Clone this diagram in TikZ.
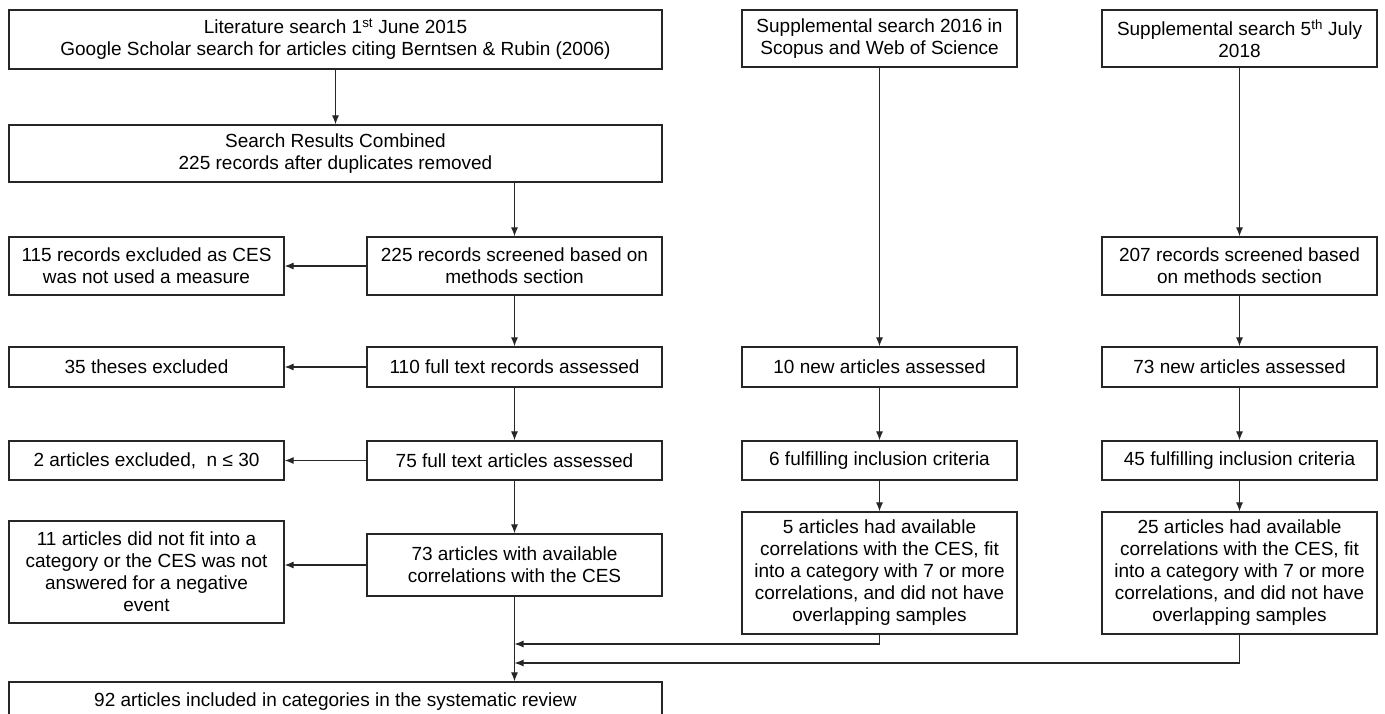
\documentclass[tikz,border=0pt]{standalone}
\usepackage{fontspec}
\setmainfont{Liberation Sans}
\usetikzlibrary{arrows.meta}
\begin{document}
\begin{tikzpicture}[x=1pt,y=-1pt,
  box/.style={draw=black!85,line width=1.2pt,inner sep=0pt,align=center,
    font=\fontsize{19}{22}\selectfont},
  arr/.style={draw=black!85,line width=1.1pt,-{Latex[length=9pt,width=7pt]}},
  ln/.style={draw=black!85,line width=1.1pt}]
\useasboundingbox (0,0) rectangle (1385,714);
% top row
\node[box,minimum width=653pt,minimum height=59pt] (A) at (335.5,39.5)
  {Literature search 1\textsuperscript{st} June 2015\\Google Scholar search for articles citing Berntsen \& Rubin (2006)};
\node[box,minimum width=275pt,minimum height=57pt] (S1) at (879.5,38.5)
  {Supplemental search 2016 in\\Scopus and Web of Science};
\node[box,minimum width=275pt,minimum height=57pt] (S2) at (1239.5,38.5)
  {Supplemental search 5\textsuperscript{th} July\\2018};
\node[box,minimum width=653pt,minimum height=57pt] (B) at (335.5,153.5)
  {Search Results Combined\\225 records after duplicates removed};
% row C
\node[box,minimum width=275pt,minimum height=58pt] (C1) at (146.5,266)
  {115 records excluded as CES\\was not used a measure};
\node[box,minimum width=295pt,minimum height=58pt] (C2) at (514.5,266)
  {225 records screened based on\\methods section};
\node[box,minimum width=275pt,minimum height=58pt] (C4) at (1239.5,266)
  {207 records screened based\\on methods section};
% row D
\node[box,minimum width=275pt,minimum height=40pt] (D1) at (146.5,367) {35 theses excluded};
\node[box,minimum width=295pt,minimum height=40pt] (D2) at (514.5,367) {110 full text records assessed};
\node[box,minimum width=275pt,minimum height=40pt] (D3) at (879.5,367) {10 new articles assessed};
\node[box,minimum width=275pt,minimum height=40pt] (D4) at (1239.5,367) {73 new articles assessed};
% row E
\node[box,minimum width=275pt,minimum height=39pt] (E1) at (146.5,460.5) {2 articles excluded,\ \ n ≤ 30};
\node[box,minimum width=295pt,minimum height=39pt] (E2) at (514.5,460.5) {75 full text articles assessed};
\node[box,minimum width=275pt,minimum height=39pt] (E3) at (879.5,460.5) {6 fulfilling inclusion criteria};
\node[box,minimum width=275pt,minimum height=39pt] (E4) at (1239.5,460.5) {45 fulfilling inclusion criteria};
% row F
\node[box,minimum width=275pt,minimum height=102pt] (F1) at (146.5,572)
  {11 articles did not fit into a\\category or the CES was not\\answered for a negative\\event};
\node[box,minimum width=295pt,minimum height=62pt] (F2) at (514.5,565)
  {73 articles with available\\correlations with the CES};
\node[box,minimum width=275pt,minimum height=122pt] (F3) at (879.5,573)
  {5 articles had available\\correlations with the CES, fit\\into a category with 7 or more\\correlations, and did not have\\overlapping samples};
\node[box,minimum width=275pt,minimum height=122pt] (F4) at (1239.5,573)
  {25 articles had available\\correlations with the CES, fit\\into a category with 7 or more\\correlations, and did not have\\overlapping samples};
% bottom
\node[box,minimum width=653pt,minimum height=40pt] (G) at (335.5,702)
  {92 articles included in categories in the systematic review};
\coordinate (j1) at (514.5,644);
\coordinate (j2) at (514.5,663);
% connectors
\draw[arr] (A.south) -- (B.north);
\draw[arr] (C2 |- B.south) -- (C2.north);
\draw[arr] (C2.south) -- (D2.north);
\draw[arr] (D2.south) -- (E2.north);
\draw[arr] (E2.south) -- (F2.north);
\draw[arr] (F2.south) -- (F2.south |- G.north);
\draw[arr] (C2.west) -- (C1.east);
\draw[arr] (D2.west) -- (D1.east);
\draw[arr] (E2.west) -- (E1.east);
\draw[arr] (F2.west) -- (F2.west -| F1.east);
\draw[arr] (S1.south) -- (D3.north);
\draw[arr] (D3.south) -- (E3.north);
\draw[arr] (E3.south) -- (F3.north);
\draw[arr] (S2.south) -- (C4.north);
\draw[arr] (C4.south) -- (D4.north);
\draw[arr] (D4.south) -- (E4.north);
\draw[arr] (E4.south) -- (F4.north);
\draw[arr] (F3.south) |- (j1);
\draw[arr] (F4.south) |- (j2);
\end{tikzpicture}
\end{document}
